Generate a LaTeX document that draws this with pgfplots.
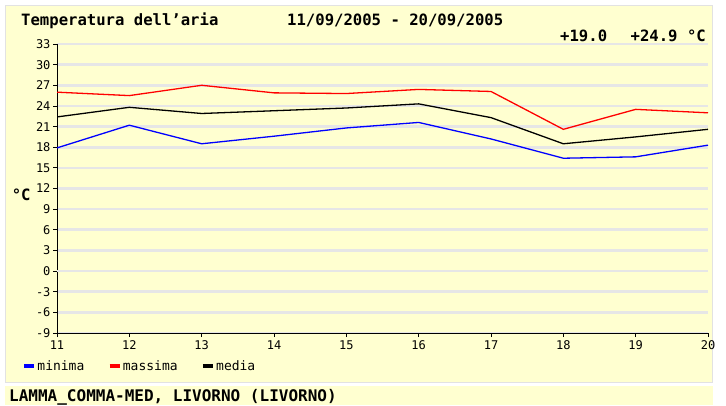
\documentclass[border=0pt]{standalone}
\usepackage{fontspec}
\setmainfont{DejaVu Sans Mono}
\usepackage{pgfplots}
\usepackage{pgfplotstable}
\pgfplotsset{compat=1.18}
\definecolor{panel}{HTML}{FFFFD0}
\definecolor{framec}{HTML}{E2E2E2}
\definecolor{gridc}{HTML}{E6E6E6}
\definecolor{zeroc}{HTML}{C4C4C4}
\pgfplotstableread{
day minima massima media
11 17.9 26.0 22.4
12 21.2 25.5 23.8
13 18.5 27.0 22.9
14 19.6 25.9 23.3
15 20.8 25.8 23.7
16 21.6 26.4 24.3
17 19.2 26.1 22.3
18 16.4 20.6 18.5
19 16.6 23.5 19.5
20 18.3 23.0 20.6
}\datatable
\begin{document}
\begin{tikzpicture}[x=1pt,y=1pt]
\fill[white] (0,0) rectangle (726,405);
\useasboundingbox (0,0) rectangle (726,405);
\filldraw[fill=panel, draw=framec, line width=1.5pt] (5.5,22.5) rectangle (712.5,399.5);
\fill[panel] (5,0) rectangle (713,19);
\begin{axis}[
  at={(57pt,72pt)}, anchor=south west,
  scale only axis, width=651pt, height=289pt,
  xmin=11, xmax=20, ymin=-9, ymax=33,
  axis lines*=left, axis line style={line width=1pt, -},
  xtick={11,...,20}, ytick={-9,-6,...,33},
  tick align=outside, major tick length=4pt,
  tick style={black, line width=0.8pt},
  ymajorgrids, major grid style={gridc, line width=2.6pt},
  extra y ticks={0}, extra y tick labels={},
  extra y tick style={grid style={zeroc, line width=2pt}},
  tick label style={font=\fontsize{12}{12}\selectfont},
  yticklabel style={xshift=1pt},
  /pgf/number format/assume math mode=true,
  ylabel={\bfseries\fontsize{15.6}{16}\selectfont °C},
  ylabel style={rotate=-90, at={(axis description cs:-0.055,0.477)}, anchor=center},
  legend columns=3,
  legend style={at={(axis description cs:-0.058,-0.114)}, anchor=west, draw=none, fill=none,
    font=\fontsize{13}{13}\selectfont,
    /tikz/every even column/.append style={column sep=22pt},
    nodes={inner sep=1.5pt}},
  legend cell align=left,
  legend image code/.code={\draw[line width=3.5pt] (0pt,0pt) -- (10pt,0pt);},
  every axis plot/.append style={line width=1.3pt},
]
\addplot[blue, no marks] table[x=day, y=minima] {\datatable};
\addlegendentry{minima}
\addplot[red, no marks] table[x=day, y=massima] {\datatable};
\addlegendentry{massima}
\addplot[black, no marks] table[x=day, y=media] {\datatable};
\addlegendentry{media}
\end{axis}
\begin{scope}[every node/.style={inner sep=0, font=\bfseries\fontsize{15.6}{16}\selectfont}]
\node[anchor=base west] at (21,379.5) {Temperatura dell’aria};
\node[anchor=base west] at (287,379.5) {11/09/2005 - 20/09/2005};
\node[anchor=base west] at (560,363) {+19.0};
\node[anchor=base east] at (706,363) {+24.9 °C};
\node[anchor=base west, font=\bfseries\fontsize{16}{17}\selectfont] at (9,4) {LAMMA\_COMMA-MED, LIVORNO (LIVORNO)};
\end{scope}
\end{tikzpicture}
\end{document}
